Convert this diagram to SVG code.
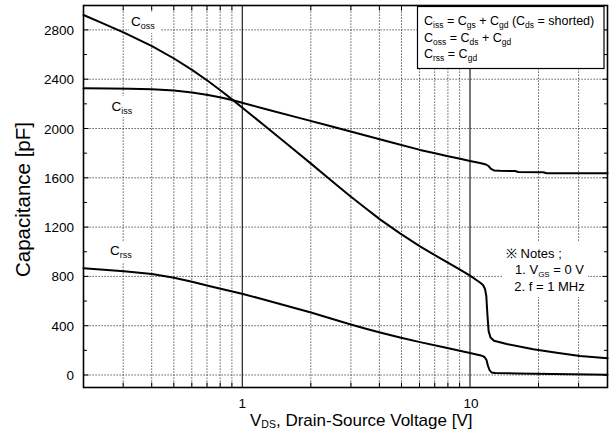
<svg xmlns="http://www.w3.org/2000/svg" width="615" height="446" viewBox="0 0 615 446">
<style>
text{font-family:"Liberation Sans",Arial,sans-serif;fill:#000}
.grid{stroke:#333;stroke-width:1;stroke-dasharray:1.2 1.8;fill:none}
.solid{stroke:#222;stroke-width:1.2;fill:none}
.tick{stroke:#000;stroke-width:1;fill:none}
.curve{stroke:#000;stroke-width:2;fill:none;stroke-linejoin:round;stroke-linecap:round}
.tl{font-size:13.5px}
.lab{font-size:13.5px}
.sub9{font-size:9px}
.bg{fill:#fff;stroke:none}
</style>
<rect width="615" height="446" fill="#fff"/>
<g id="grid">
<path class="grid" d="M83.5 375H607.5M83.5 325.7H607.5M83.5 276.4H607.5M83.5 227.1H607.5M83.5 177.8H607.5M83.5 128.5H607.5M83.5 79.2H607.5M83.5 29.9H607.5"/>
<path class="grid" d="M123.2 5.5V387.5M151.7 5.5V387.5M173.8 5.5V387.5M191.8 5.5V387.5M207 5.5V387.5M220.2 5.5V387.5M231.9 5.5V387.5M310.8 5.5V387.5M350.9 5.5V387.5M379.4 5.5V387.5M401.5 5.5V387.5M419.5 5.5V387.5M434.7 5.5V387.5M447.9 5.5V387.5M459.6 5.5V387.5M538.5 5.5V387.5M578.6 5.5V387.5"/>
<path class="solid" d="M242.3 5.5V387.5M470 5.5V387.5"/>
</g>
<g id="ticks">
<path class="tick" d="M83.5 375h5M83.5 325.7h5M83.5 276.4h5M83.5 227.1h5M83.5 177.8h5M83.5 128.5h5M83.5 79.2h5M83.5 29.9h5M83.5 350.35h3.5M83.5 301.05h3.5M83.5 251.75h3.5M83.5 202.45h3.5M83.5 153.15h3.5M83.5 103.85h3.5M83.5 54.55h3.5"/>
<path class="tick" d="M607.5 375h-5M607.5 325.7h-5M607.5 276.4h-5M607.5 227.1h-5M607.5 177.8h-5M607.5 128.5h-5M607.5 79.2h-5M607.5 29.9h-5M607.5 350.35h-3.5M607.5 301.05h-3.5M607.5 251.75h-3.5M607.5 202.45h-3.5M607.5 153.15h-3.5M607.5 103.85h-3.5M607.5 54.55h-3.5"/>
<path class="tick" d="M123.2 387.5v-5M151.7 387.5v-5M173.8 387.5v-5M191.8 387.5v-5M207 387.5v-5M220.2 387.5v-5M231.9 387.5v-5M310.8 387.5v-5M350.9 387.5v-5M379.4 387.5v-5M401.5 387.5v-5M419.5 387.5v-5M434.7 387.5v-5M447.9 387.5v-5M459.6 387.5v-5M538.5 387.5v-5M578.6 387.5v-5"/>
<path class="tick" d="M123.2 5.5v5M151.7 5.5v5M173.8 5.5v5M191.8 5.5v5M207 5.5v5M220.2 5.5v5M231.9 5.5v5M310.8 5.5v5M350.9 5.5v5M379.4 5.5v5M401.5 5.5v5M419.5 5.5v5M434.7 5.5v5M447.9 5.5v5M459.6 5.5v5M538.5 5.5v5M578.6 5.5v5"/>
</g>
<g id="curves">
<polyline id="coss" class="curve" points="83.5,15 100,22.1 124,32.6 152,46.2 174,58.5 192,69.9 208,81 221,90.7 233,100.1 243,108.2 265,126 280,138.2 295,150.6 311,163.6 330,179.5 350,196 365,207.8 380,219.4 400,233.4 420,246.3 440,258.2 460,269.7 470,275.7 480,282.5 483,285 485,289 486.3,296 487.3,313 488.6,331 490.5,337.5 494,340.8 506.7,344 533.3,349.3 556.7,352.7 580,356 607.5,358.3"/>
<polyline id="ciss" class="curve" points="83.5,88.3 110,88.4 130,88.7 152,89.3 174,90.5 192,92.5 208,95 221,97.5 233,100.3 243,103 270,110.2 300,118.1 330,126 360,134 390,142 420,149.9 435,153.2 448,156.2 459,158.6 470,161 480,163 486,164.5 488.5,166 491,168.8 494,170.4 500,170.8 515,171 518.3,172 543.3,172.3 546.7,173.3 607.5,173.3"/>
<polyline id="crss" class="curve" points="83.5,268.3 124,271.3 152,274.1 174,277.8 192,281.8 210,286.3 226,290 242,293.7 260,298.5 280,304 311,312.5 330,318.3 350,324.3 365,328.5 380,332.5 400,337.5 420,342.1 445,347.6 470,353 482,355.8 484.5,357 486.5,360 488,366 489.5,370 491.5,372.5 495,373.1 516.7,373.4 607.5,374.8"/>
</g>
<g id="frame">
<rect x="83.5" y="5.5" width="524" height="382" fill="none" stroke="#000" stroke-width="1.6"/>
</g>
<g id="curve-labels">
<rect class="bg" x="129" y="12" width="31" height="21"/>
<text class="lab" x="131" y="26">C<tspan class="sub9" dy="3">oss</tspan></text>
<rect class="bg" x="109" y="96" width="28" height="21"/>
<text class="lab" x="111.5" y="110.5">C<tspan class="sub9" dy="3">iss</tspan></text>
<rect class="bg" x="108" y="241" width="28" height="21"/>
<text class="lab" x="110" y="255">C<tspan class="sub9" dy="3">rss</tspan></text>
</g>
<g id="legend">
<rect x="417.5" y="6.5" width="186.5" height="62" fill="#fff" stroke="#000" stroke-width="1.2"/>
<text x="424" y="25" font-size="12.5">C<tspan font-size="8.5" dy="3">iss</tspan><tspan dy="-3"> = C</tspan><tspan font-size="8.5" dy="3">gs</tspan><tspan dy="-3"> + C</tspan><tspan font-size="8.5" dy="3">gd</tspan><tspan dy="-3"> (C</tspan><tspan font-size="8.5" dy="3">ds</tspan><tspan dy="-3"> = shorted)</tspan></text>
<text x="424" y="41.5" font-size="12.5">C<tspan font-size="8.5" dy="3">oss</tspan><tspan dy="-3"> = C</tspan><tspan font-size="8.5" dy="3">ds</tspan><tspan dy="-3"> + C</tspan><tspan font-size="8.5" dy="3">gd</tspan></text>
<text x="424" y="58" font-size="12.5">C<tspan font-size="8.5" dy="3">rss</tspan><tspan dy="-3"> = C</tspan><tspan font-size="8.5" dy="3">gd</tspan></text>
</g>
<g id="notes">
<rect class="bg" x="503" y="242" width="85" height="55"/>
<text x="506" y="257.5" font-size="13">※ Notes ;</text>
<text x="515" y="274" font-size="13">1. V<tspan font-size="8" dy="3">GS</tspan><tspan dy="-3"> = 0 V</tspan></text>
<text x="514.3" y="290.7" font-size="13">2. f = 1 MHz</text>
</g>
<g id="axis-labels">
<text class="tl" x="74" y="380" text-anchor="end">0</text>
<text class="tl" x="74" y="330.7" text-anchor="end">400</text>
<text class="tl" x="74" y="281.4" text-anchor="end">800</text>
<text class="tl" x="74" y="232.1" text-anchor="end">1200</text>
<text class="tl" x="74" y="182.8" text-anchor="end">1600</text>
<text class="tl" x="74" y="133.5" text-anchor="end">2000</text>
<text class="tl" x="74" y="84.2" text-anchor="end">2400</text>
<text class="tl" x="74" y="34.9" text-anchor="end">2800</text>
<text class="tl" x="242.3" y="408" text-anchor="middle">1</text>
<text class="tl" x="471" y="408" text-anchor="middle">10</text>
<text x="250" y="426" font-size="17">V<tspan font-size="10.5" dy="2">DS</tspan><tspan dy="-2">, Drain-Source Voltage [V]</tspan></text>
<text x="0" y="0" font-size="20.5" text-anchor="middle" transform="translate(29.5 199.5) rotate(-90)">Capacitance [pF]</text>
</g>
</svg>
